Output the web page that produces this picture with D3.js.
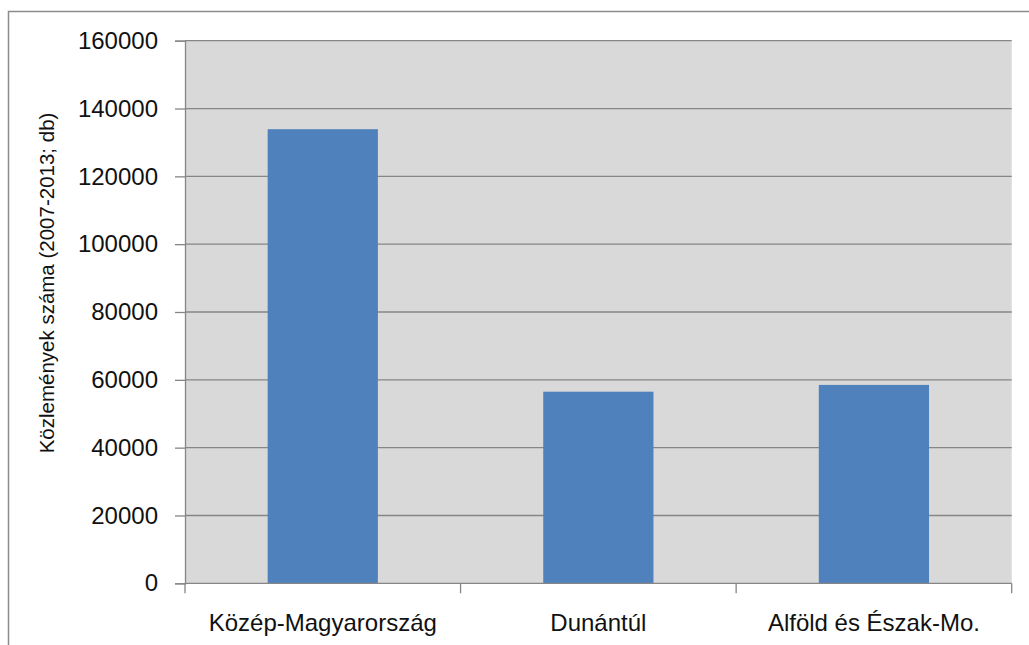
<!DOCTYPE html>
<html><head><meta charset="utf-8">
<script src="https://cdn.jsdelivr.net/npm/d3@7"></script>
<style>body{margin:0;background:#fff}svg{display:block}</style>
</head><body>
<script>
const categories = ["Közép-Magyarország", "Dunántúl", "Alföld és Észak-Mo."];
const values = [133900, 56500, 58500];
const yTicks = [0, 20000, 40000, 60000, 80000, 100000, 120000, 140000, 160000];
const yTitle = "Közlemények száma (2007-2013;  db)";

const W = 1029, H = 645;
const svg = d3.select("body").append("svg").attr("width", W).attr("height", H);
const m = {left: 185, right: 1011.7, top: 40.7, bottom: 583.3};
const font = "'Liberation Sans', Arial, sans-serif";

// outer border
svg.append("path").attr("d", `M8.5,${H} V11.5 H${W}`).attr("fill", "none").attr("stroke", "#8c8c8c").attr("stroke-width", 1.5);

const x = d3.scaleBand().domain(categories).range([m.left, m.right]).paddingInner(0.6).paddingOuter(0.3);
const y = d3.scaleLinear().domain([0, 160000]).range([m.bottom, m.top]);

svg.append("rect").attr("x", m.left).attr("y", m.top).attr("width", m.right - m.left).attr("height", m.bottom - m.top).attr("fill", "#d9d9d9");

// gridlines
svg.append("g").selectAll("line").data(yTicks.filter(d => d > 0)).join("line")
  .attr("x1", m.left).attr("x2", m.right).attr("y1", d => y(d)).attr("y2", d => y(d))
  .attr("stroke", "#868686").attr("stroke-width", 1.3);

// bars
svg.append("g").selectAll("rect").data(values).join("rect")
  .attr("x", (d, i) => x(categories[i])).attr("width", x.bandwidth())
  .attr("y", d => y(d)).attr("height", d => y(0) - y(d))
  .attr("fill", "#4f81bd");

// y axis
const ya = svg.append("g").attr("transform", `translate(${m.left},0)`)
  .call(d3.axisLeft(y).tickValues(yTicks).tickSize(10).tickPadding(17).tickFormat(d3.format("d")));
ya.select(".domain").attr("stroke", "#868686").attr("stroke-width", 1.3);
ya.selectAll(".tick line").attr("stroke", "#868686").attr("stroke-width", 1.3);
ya.selectAll("text").attr("font-family", font).attr("font-size", 24).attr("fill", "#111");

// x axis with ticks at band boundaries
const xa = svg.append("g").attr("transform", `translate(0,${m.bottom})`);
xa.append("line").attr("x1", m.left).attr("x2", m.right).attr("stroke", "#868686").attr("stroke-width", 1.3);
const step = x.step();
const bounds = [m.left, ...categories.slice(1).map(c => x(c) - step * x.paddingInner() / 2), m.right];
xa.selectAll("line.t").data(bounds).join("line").attr("class", "t")
  .attr("x1", d => d).attr("x2", d => d).attr("y1", 0).attr("y2", 10)
  .attr("stroke", "#868686").attr("stroke-width", 1.3);
xa.selectAll("text").data(categories).join("text")
  .attr("x", d => x(d) + x.bandwidth() / 2).attr("y", 48)
  .attr("text-anchor", "middle").attr("font-family", font).attr("font-size", 24).attr("fill", "#111")
  .text(d => d);

// y title
svg.append("text").attr("transform", `translate(54,283) rotate(-90)`)
  .attr("text-anchor", "middle").attr("font-family", font).attr("font-size", 20.5).attr("fill", "#111")
  .text(yTitle);
</script>
</body></html>
